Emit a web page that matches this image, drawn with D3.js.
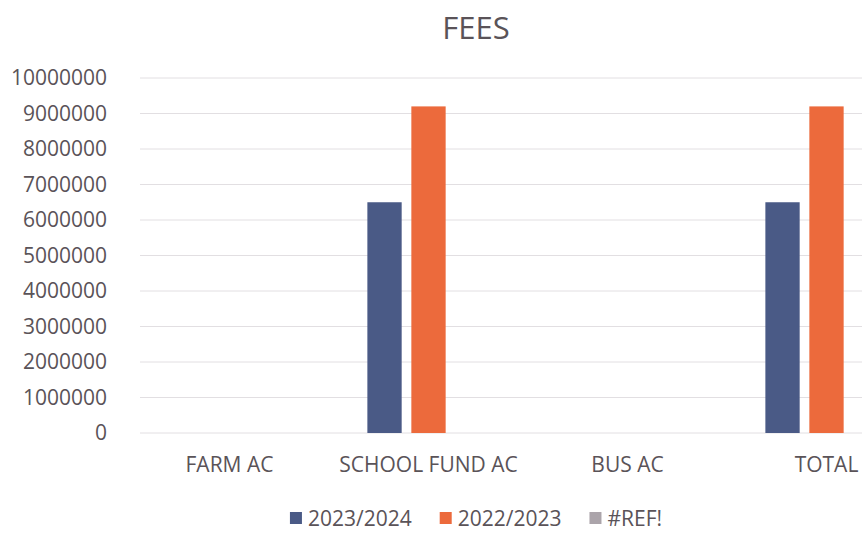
<!DOCTYPE html>
<html>
<head>
<meta charset="utf-8">
<script src="https://cdn.jsdelivr.net/npm/d3@7"></script>
<style>
  body { margin: 0; background: #ffffff; }
  text { font-family: "Open Sans", "Noto Sans", sans-serif; fill: #5a5358; }
</style>
</head>
<body>
<div id="chart"></div>
<script>
// chart data
const categories = ["FARM AC", "SCHOOL FUND AC", "BUS AC", "TOTAL"];
const seriesNames = ["2023/2024", "2022/2023", "#REF!"];
const fees2023_2024 = [0, 6500000, 0, 6500000];
const fees2022_2023 = [0, 9200000, 0, 9200000];
const feesRef = [0, 0, 0, 0];
const yTicks = [0, 1000000, 2000000, 3000000, 4000000, 5000000, 6000000, 7000000, 8000000, 9000000, 10000000];

function main() {
    const width = 862;
    const height = 534;

    const seriesValues = [fees2023_2024, fees2022_2023, feesRef];
    const colour = d3.scaleOrdinal()
        .domain(seriesNames)
        .range(["#4a5a86", "#ec6a3c", "#aba4aa"]);

    const rows = categories.map((c, i) => ({
        category: c,
        values: seriesNames.map((s, j) => ({ series: s, value: seriesValues[j][i] }))
    }));

    const svg = d3.select("#chart").append("svg")
        .attr("width", width)
        .attr("height", height);

    const x0 = d3.scaleBand()
        .domain(categories)
        .range([130, 926])
        .paddingInner(0.337)
        .paddingOuter(0.1685);

    const x1 = d3.scaleBand()
        .domain(seriesNames)
        .range([0, x0.bandwidth()])
        .paddingInner(0.22)
        .paddingOuter(0.11);

    const y = d3.scaleLinear()
        .domain([0, 10000000])
        .range([433, 78]);

    // gridlines
    svg.append("g")
        .selectAll("line")
        .data(yTicks)
        .enter().append("line")
        .attr("x1", 140)
        .attr("x2", width)
        .attr("y1", d => y(d))
        .attr("y2", d => y(d))
        .attr("stroke", "#e2dfe2")
        .attr("stroke-width", 1);

    // y axis labels
    const yAxis = d3.axisLeft(y)
        .tickValues(yTicks)
        .tickFormat(d3.format("d"))
        .tickSize(0)
        .tickPadding(0);

    svg.append("g")
        .attr("transform", "translate(107,0)")
        .call(yAxis)
        .call(g => g.select(".domain").remove())
        .selectAll("text")
        .style("font-size", "21px")
        .style("font-family", null)
        .attr("fill", null);

    // bars
    const groups = svg.append("g")
        .selectAll("g")
        .data(rows)
        .enter().append("g")
        .attr("transform", d => "translate(" + x0(d.category) + ",0)");

    groups.selectAll("rect")
        .data(d => d.values)
        .enter().append("rect")
        .attr("x", d => x1(d.series))
        .attr("width", x1.bandwidth())
        .attr("y", d => y(d.value))
        .attr("height", d => y(0) - y(d.value))
        .attr("fill", d => colour(d.series));

    // x axis labels
    const xAxis = d3.axisBottom(x0).tickSize(0).tickPadding(0);
    svg.append("g")
        .attr("transform", "translate(0,457)")
        .call(xAxis)
        .call(g => g.select(".domain").remove())
        .selectAll("text")
        .attr("dy", "0.71em")
        .style("font-size", "21px")
        .style("font-family", null)
        .attr("fill", null);

    // title
    svg.append("text")
        .attr("x", 476)
        .attr("y", 39)
        .style("text-anchor", "middle")
        .style("font-size", "31px")
        .text("FEES");

    // legend
    const legend = svg.append("g");
    const items = legend.selectAll("g")
        .data(seriesNames)
        .enter().append("g");

    items.append("rect")
        .attr("width", 12)
        .attr("height", 12)
        .attr("y", -6)
        .attr("fill", d => colour(d));

    items.append("text")
        .attr("x", 18)
        .attr("dy", "0.36em")
        .style("font-size", "21px")
        .text(d => d);

    let offset = 0;
    items.each(function() {
        const w = this.querySelector("text").getComputedTextLength();
        d3.select(this).attr("transform", "translate(" + offset + ",518)");
        offset += 18 + w + 28;
    });
    const total = offset - 28;
    legend.attr("transform", "translate(" + (476 - total / 2) + ",0)");
}

main();
</script>
</body>
</html>
